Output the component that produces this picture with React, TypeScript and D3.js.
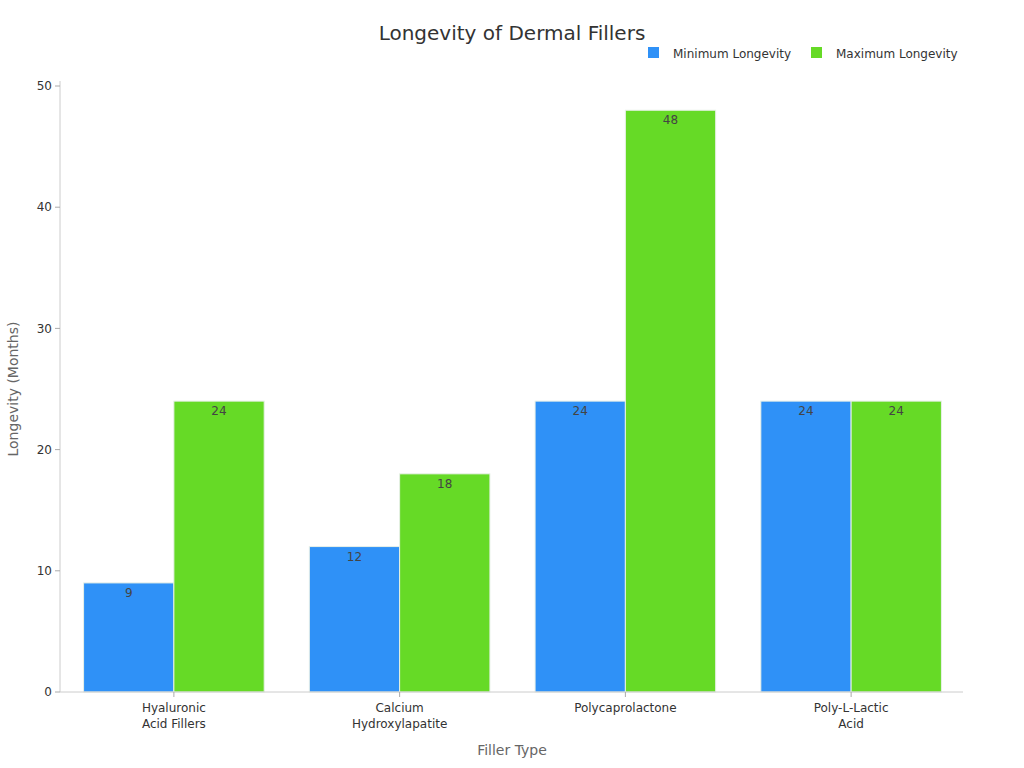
import { useMemo } from "react";
import * as d3 from "d3";

const categories = ["Hyaluronic Acid Fillers", "Calcium Hydroxylapatite", "Polycaprolactone", "Poly-L-Lactic Acid"];
const categoryLines = [["Hyaluronic", "Acid Fillers"], ["Calcium", "Hydroxylapatite"], ["Polycaprolactone"], ["Poly-L-Lactic", "Acid"]];
const minLongevity = [9, 12, 24, 24];
const maxLongevity = [24, 18, 48, 24];
const seriesNames = ["Minimum Longevity", "Maximum Longevity"];
const seriesColors = ["#2f91f7", "#66da26"];
const yTicks = [0, 10, 20, 30, 40, 50];

const width = 1024;
const height = 768;
const margin = { top: 86, right: 61, bottom: 76, left: 60 };
const font = "DejaVu Sans, sans-serif";

export default function App() {
    const x = useMemo(
        () => d3.scaleBand<string>().domain(categories).range([margin.left + 1, width - margin.right + 1]).paddingInner(0.2).paddingOuter(0.1),
        []
    );
    const x1 = useMemo(() => d3.scaleBand<string>().domain(seriesNames).range([0, x.bandwidth()]), [x]);
    const y = useMemo(() => d3.scaleLinear().domain([0, 50]).range([height - margin.bottom, margin.top]), []);

    const series = [minLongevity, maxLongevity];
    const y0 = y(0);

    return (
        <svg width={width} height={height} style={{ position: "absolute", left: 0, top: 0, fontFamily: font }}>
            <rect width={width} height={height} fill="#fff" />
            <text x={512} y={40} textAnchor="middle" fontSize={20} fill="#333">
                Longevity of Dermal Fillers
            </text>

            {/* legend */}
            {seriesNames.map((name, i) => {
                const lx = [648, 811][i];
                return (
                    <g key={name}>
                        <rect x={lx} y={47} width={11} height={11} fill={seriesColors[i]} />
                        <text x={lx + 25} y={57.5} fontSize={12} fill="#333">
                            {name}
                        </text>
                    </g>
                );
            })}

            {/* y axis */}
            <line x1={margin.left} x2={margin.left} y1={y0} y2={margin.top - 5} stroke="#ccc" />
            {yTicks.map((t) => (
                <g key={t}>
                    <line x1={margin.left - 5} x2={margin.left} y1={y(t)} y2={y(t)} stroke="#aaa" />
                    <text x={margin.left - 8} y={y(t)} dy="0.35em" textAnchor="end" fontSize={12} fill="#333">
                        {t}
                    </text>
                </g>
            ))}
            <text
                transform={`translate(18,${(y0 + margin.top) / 2}) rotate(-90)`}
                textAnchor="middle"
                fontSize={14}
                fill="#666"
            >
                Longevity (Months)
            </text>

            {/* bars */}
            {categories.map((c, ci) => (
                <g key={c} transform={`translate(${x(c)},0)`}>
                    {series.map((vals, si) => {
                        const bx = x1(seriesNames[si]) ?? 0;
                        const v = vals[ci];
                        return (
                            <g key={si}>
                                <rect
                                    x={bx}
                                    y={y(v)}
                                    width={x1.bandwidth()}
                                    height={y0 - y(v)}
                                    fill={seriesColors[si]}
                                    stroke="#e8f0e8"
                                    strokeWidth={1}
                                />
                                <text x={bx + x1.bandwidth() / 2} y={y(v) + 14} textAnchor="middle" fontSize={12} fill="#444">
                                    {v}
                                </text>
                            </g>
                        );
                    })}
                </g>
            ))}

            {/* x axis */}
            <line x1={margin.left} x2={width - margin.right} y1={y0} y2={y0} stroke="#ccc" />
            {categories.map((c, ci) => {
                const cx = (x(c) ?? 0) + x.bandwidth() / 2;
                return (
                    <g key={c}>
                        <line x1={cx} x2={cx} y1={y0} y2={y0 + 5} stroke="#aaa" />
                        <text x={cx} y={y0 + 20} textAnchor="middle" fontSize={12} fill="#333">
                            {categoryLines[ci].map((l, li) => (
                                <tspan key={li} x={cx} dy={li === 0 ? 0 : 16}>
                                    {l}
                                </tspan>
                            ))}
                        </text>
                    </g>
                );
            })}
            <text x={512} y={755} textAnchor="middle" fontSize={14} fill="#666">
                Filler Type
            </text>
        </svg>
    );
}
